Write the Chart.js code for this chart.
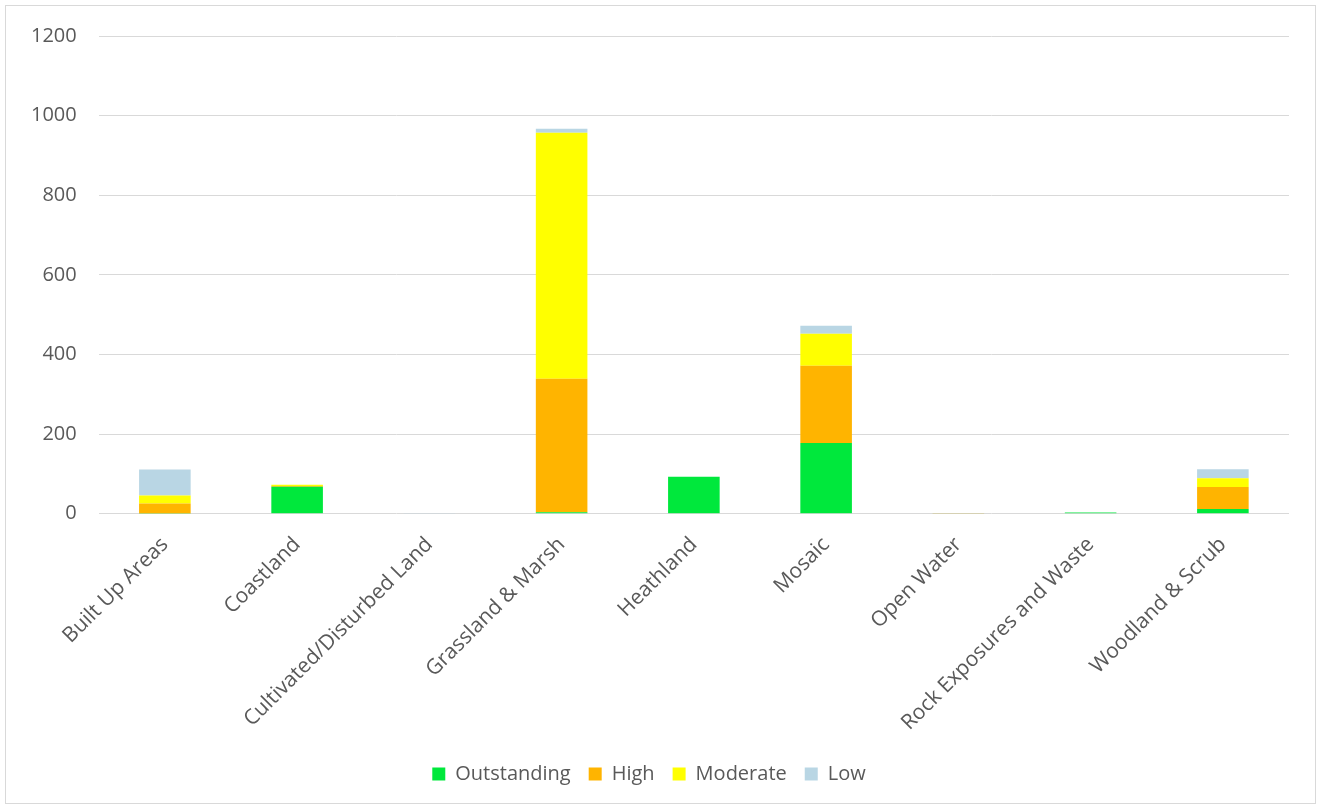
<!DOCTYPE html>
<html>
<head>
<meta charset="utf-8">
<script src="https://cdn.jsdelivr.net/npm/chart.js@4/dist/chart.umd.min.js"></script>
<style>
  html, body { margin: 0; padding: 0; background: #fff; }
  #wrap { position: absolute; left: 5px; top: 5px; width: 1311px; height: 799px; border: 1px solid #d9d9d9; box-sizing: border-box; }
</style>
</head>
<body>
<div id="wrap"><canvas id="chart"></canvas></div>
<script>
// categorias e valores
const categories = ['Built Up Areas', 'Coastland', 'Cultivated/Disturbed Land', 'Grassland & Marsh', 'Heathland', 'Mosaic', 'Open Water', 'Rock Exposures and Waste', 'Woodland & Scrub'];
const outstanding = [1, 68, 0, 4, 93, 178, 0, 3, 12];
const high = [25, 2, 0, 335, 0, 194, 1, 0, 55];
const moderate = [20, 3, 0, 618, 0, 80, 0, 0, 22];
const low = [65, 0, 1, 10, 0, 20, 1, 0, 23];
const yTicks = [0, 200, 400, 600, 800, 1000, 1200];

const font = { family: "'Open Sans', 'Liberation Sans', sans-serif", size: 20 };
const xFont = { family: "'Open Sans', 'Liberation Sans', sans-serif", size: 21 };
const yFont = { family: "'Open Sans', 'Liberation Sans', sans-serif", size: 20, lineHeight: 0.8 };

const data = {
    labels: categories,
    datasets: [
        { label: 'Outstanding', data: outstanding, backgroundColor: '#00E83C' },
        { label: 'High', data: high, backgroundColor: '#FFB400' },
        { label: 'Moderate', data: moderate, backgroundColor: '#FFFF00' },
        { label: 'Low', data: low, backgroundColor: '#B9D6E4' }
    ]
};

const config = {
    type: 'bar',
    data: data,
    options: {
        responsive: true,
        maintainAspectRatio: false,
        animation: false,
        datasets: { bar: { categoryPercentage: 1, barPercentage: 0.39 } },
        layout: { padding: { left: 3, right: 26, top: 0, bottom: 9 } },
        plugins: {
            legend: {
                position: 'bottom',
                labels: { color: '#595959', font: font, boxWidth: 13, boxHeight: 13, padding: 18 }
            },
            tooltip: { enabled: false }
        },
        scales: {
            x: {
                stacked: true,
                grid: { display: false },
                border: { display: false },
                ticks: { color: '#595959', font: xFont, minRotation: 45, maxRotation: 45, padding: 10.5 }
            },
            y: {
                stacked: true,
                min: 0,
                max: 1200,
                afterBuildTicks: axis => { axis.ticks = yTicks.map(v => ({ value: v })); },
                grid: { color: '#d9d9d9', drawTicks: false },
                border: { display: false },
                ticks: { color: '#595959', font: yFont, padding: 22, callback: v => String(v) }
            }
        }
    }
};

const chart = new Chart(document.getElementById('chart'), config);
</script>
</body>
</html>
